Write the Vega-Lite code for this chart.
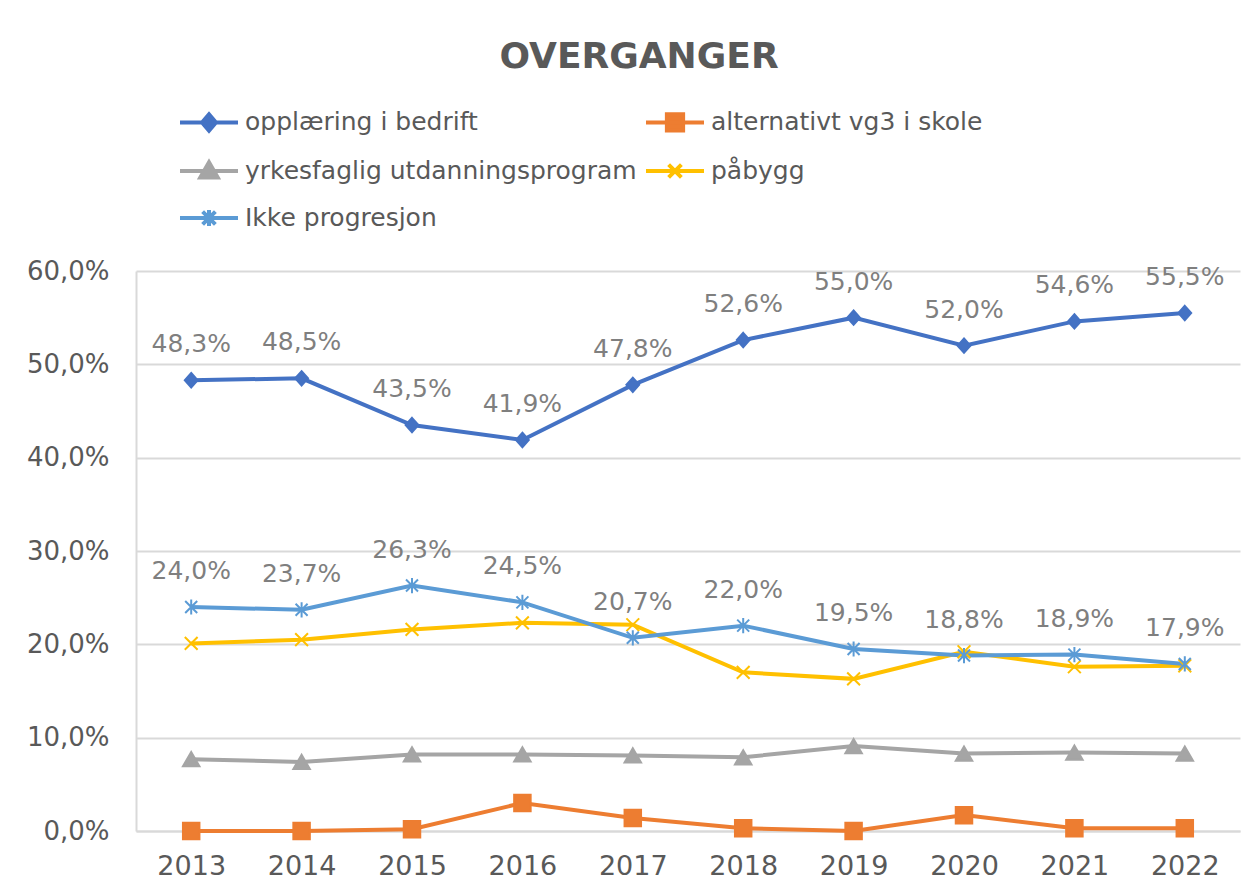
{
  "$schema": "https://vega.github.io/schema/vega-lite/v6.json",
  "width": 1104,
  "height": 560,
  "autosize": {"type": "none"},
  "padding": {"left": 136, "top": 271, "right": 19, "bottom": 64},
  "background": "white",
  "config": {
    "locale": {"number": {"decimal": ",", "thousands": "\u00a0", "grouping": [3], "currency": ["", " kr"]}},
    "view": {"stroke": null},
    "font": "DejaVu Sans"
  },
  "title": {
    "text": "OVERGANGER",
    "font": "DejaVu Sans",
    "fontSize": 36,
    "fontWeight": "bold",
    "color": "#595959",
    "anchor": "middle",
    "dx": -49,
    "baseline": "alphabetic",
    "offset": -13
  },
  "data": {
    "values": [
      {"year": "2013", "series": "opplæring i bedrift", "value": 0.483},
      {"year": "2014", "series": "opplæring i bedrift", "value": 0.485},
      {"year": "2015", "series": "opplæring i bedrift", "value": 0.435},
      {"year": "2016", "series": "opplæring i bedrift", "value": 0.419},
      {"year": "2017", "series": "opplæring i bedrift", "value": 0.478},
      {"year": "2018", "series": "opplæring i bedrift", "value": 0.526},
      {"year": "2019", "series": "opplæring i bedrift", "value": 0.550},
      {"year": "2020", "series": "opplæring i bedrift", "value": 0.520},
      {"year": "2021", "series": "opplæring i bedrift", "value": 0.546},
      {"year": "2022", "series": "opplæring i bedrift", "value": 0.555},
      {"year": "2013", "series": "alternativt vg3 i skole", "value": 0.000},
      {"year": "2014", "series": "alternativt vg3 i skole", "value": 0.000},
      {"year": "2015", "series": "alternativt vg3 i skole", "value": 0.002},
      {"year": "2016", "series": "alternativt vg3 i skole", "value": 0.030},
      {"year": "2017", "series": "alternativt vg3 i skole", "value": 0.014},
      {"year": "2018", "series": "alternativt vg3 i skole", "value": 0.003},
      {"year": "2019", "series": "alternativt vg3 i skole", "value": 0.000},
      {"year": "2020", "series": "alternativt vg3 i skole", "value": 0.017},
      {"year": "2021", "series": "alternativt vg3 i skole", "value": 0.003},
      {"year": "2022", "series": "alternativt vg3 i skole", "value": 0.003},
      {"year": "2013", "series": "yrkesfaglig utdanningsprogram", "value": 0.077},
      {"year": "2014", "series": "yrkesfaglig utdanningsprogram", "value": 0.074},
      {"year": "2015", "series": "yrkesfaglig utdanningsprogram", "value": 0.082},
      {"year": "2016", "series": "yrkesfaglig utdanningsprogram", "value": 0.082},
      {"year": "2017", "series": "yrkesfaglig utdanningsprogram", "value": 0.081},
      {"year": "2018", "series": "yrkesfaglig utdanningsprogram", "value": 0.079},
      {"year": "2019", "series": "yrkesfaglig utdanningsprogram", "value": 0.091},
      {"year": "2020", "series": "yrkesfaglig utdanningsprogram", "value": 0.083},
      {"year": "2021", "series": "yrkesfaglig utdanningsprogram", "value": 0.084},
      {"year": "2022", "series": "yrkesfaglig utdanningsprogram", "value": 0.083},
      {"year": "2013", "series": "påbygg", "value": 0.201},
      {"year": "2014", "series": "påbygg", "value": 0.205},
      {"year": "2015", "series": "påbygg", "value": 0.216},
      {"year": "2016", "series": "påbygg", "value": 0.223},
      {"year": "2017", "series": "påbygg", "value": 0.221},
      {"year": "2018", "series": "påbygg", "value": 0.170},
      {"year": "2019", "series": "påbygg", "value": 0.163},
      {"year": "2020", "series": "påbygg", "value": 0.192},
      {"year": "2021", "series": "påbygg", "value": 0.176},
      {"year": "2022", "series": "påbygg", "value": 0.177},
      {"year": "2013", "series": "Ikke progresjon", "value": 0.240},
      {"year": "2014", "series": "Ikke progresjon", "value": 0.237},
      {"year": "2015", "series": "Ikke progresjon", "value": 0.263},
      {"year": "2016", "series": "Ikke progresjon", "value": 0.245},
      {"year": "2017", "series": "Ikke progresjon", "value": 0.207},
      {"year": "2018", "series": "Ikke progresjon", "value": 0.220},
      {"year": "2019", "series": "Ikke progresjon", "value": 0.195},
      {"year": "2020", "series": "Ikke progresjon", "value": 0.188},
      {"year": "2021", "series": "Ikke progresjon", "value": 0.189},
      {"year": "2022", "series": "Ikke progresjon", "value": 0.179}
    ]
  },
  "encoding": {
    "x": {
      "field": "year",
      "type": "ordinal",
      "scale": {"type": "point", "padding": 0.5},
      "axis": {
        "title": null,
        "labelAngle": 0,
        "ticks": false,
        "domain": true,
        "domainColor": "#D9D9D9",
        "domainWidth": 2,
        "labelPadding": 22,
        "labelFont": "DejaVu Sans",
        "labelFontSize": 27,
        "labelColor": "#595959",
        "grid": false
      }
    },
    "y": {
      "field": "value",
      "type": "quantitative",
      "scale": {"domain": [0, 0.6], "nice": false},
      "axis": {
        "title": null,
        "values": [0, 0.1, 0.2, 0.3, 0.4, 0.5, 0.6],
        "format": ".1%",
        "ticks": false,
        "domain": true,
        "domainColor": "#D9D9D9",
        "domainWidth": 2,
        "grid": true,
        "gridColor": "#D9D9D9",
        "gridWidth": 2,
        "labelPadding": 27,
        "labelFont": "DejaVu Sans",
        "labelFontSize": 26,
        "labelColor": "#595959"
      }
    }
  },
  "layer": [
    {
      "mark": {"type": "line", "strokeWidth": 4},
      "encoding": {
        "color": {
          "field": "series",
          "type": "nominal",
          "scale": {
            "domain": ["opplæring i bedrift", "alternativt vg3 i skole", "yrkesfaglig utdanningsprogram", "påbygg", "Ikke progresjon"],
            "range": ["#4472C4", "#ED7D31", "#A5A5A5", "#FFC000", "#5B9BD5"]
          },
          "legend": {
            "title": null,
            "orient": "none",
            "legendX": 42,
            "legendY": -180,
            "direction": "horizontal",
            "columns": 2,
            "columnPadding": 1,
            "rowPadding": 1,
            "padding": 0,
            "labelFont": "DejaVu Sans",
            "labelFontSize": 25,
            "labelColor": "#595959",
            "labelOffset": 5,
            "labelLimit": 600,
            "symbolSize": 3364,
            "symbolStrokeWidth": 4,
            "encode": {
              "symbols": {
                "update": {
                  "shape": {"signal": "datum.value === 'opplæring i bedrift' ? 'M-1,0H1M0,-0.28L0.24,0L0,0.28L-0.24,0Z' : datum.value === 'alternativt vg3 i skole' ? 'M-1,0H1M-0.28,-0.28H0.28V0.28H-0.28Z' : datum.value === 'yrkesfaglig utdanningsprogram' ? 'M-1,0H1M0,-0.3L0.3,0.22L-0.3,0.22Z' : datum.value === 'påbygg' ? 'M-1,0H1M-0.22,-0.22L0.22,0.22M-0.22,0.22L0.22,-0.22' : 'M-1,0H1M-0.22,-0.22L0.22,0.22M-0.22,0.22L0.22,-0.22M0,-0.28V0.28'"},
                  "fill": {"signal": "scale('color', datum.value)"},
                  "stroke": {"signal": "scale('color', datum.value)"},
                  "strokeWidth": {"value": 4},
                  "opacity": {"value": 1}
                }
              }
            }
          }
        }
      }
    },
    {
      "transform": [{"filter": {"field": "series", "equal": "opplæring i bedrift"}}],
      "mark": {"type": "point", "shape": "M0,-0.9L0.8,0L0,0.9L-0.8,0Z", "filled": true, "color": "#4472C4", "stroke": "#4472C4", "strokeWidth": 2, "size": 256, "opacity": 1}
    },
    {
      "transform": [{"filter": {"field": "series", "equal": "alternativt vg3 i skole"}}],
      "mark": {"type": "point", "shape": "square", "filled": true, "color": "#ED7D31", "stroke": "#ED7D31", "strokeWidth": 2, "size": 272, "opacity": 1}
    },
    {
      "transform": [{"filter": {"field": "series", "equal": "yrkesfaglig utdanningsprogram"}}],
      "mark": {"type": "point", "shape": "triangle-up", "filled": true, "color": "#A5A5A5", "stroke": "#A5A5A5", "strokeWidth": 2, "size": 272, "opacity": 1}
    },
    {
      "transform": [{"filter": {"field": "series", "equal": "påbygg"}}],
      "mark": {"type": "point", "shape": "M-0.8,-0.8L0.8,0.8M-0.8,0.8L0.8,-0.8", "filled": false, "color": "#FFC000", "stroke": "#FFC000", "strokeWidth": 2, "size": 256, "opacity": 1}
    },
    {
      "transform": [{"filter": {"field": "series", "equal": "Ikke progresjon"}}],
      "mark": {"type": "point", "shape": "M-0.75,-0.75L0.75,0.75M-0.75,0.75L0.75,-0.75M0,-0.95V0.95", "filled": false, "color": "#5B9BD5", "stroke": "#5B9BD5", "strokeWidth": 2, "size": 256, "opacity": 1}
    },
    {
      "transform": [{"filter": {"field": "series", "oneOf": ["opplæring i bedrift", "Ikke progresjon"]}}],
      "mark": {"type": "text", "dy": -28, "baseline": "alphabetic", "font": "DejaVu Sans", "fontSize": 25, "color": "#7F7F7F"},
      "encoding": {
        "text": {"field": "value", "type": "quantitative", "format": ".1%"}
      }
    }
  ]
}
